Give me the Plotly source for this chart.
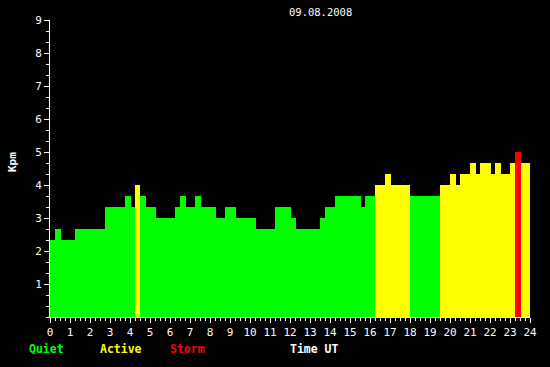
import plotly.graph_objects as go

# Segment start times (hours UT) and Kpm values
start_hours = [0.0, 0.25, 0.55, 1.25, 2.75, 3.75, 4.05, 4.25, 4.5, 4.8, 5.3, 6.25, 6.5, 6.8,
               7.25, 7.55, 8.3, 8.75, 9.3, 10.3, 11.25, 12.05, 12.3, 13.5, 13.75, 14.25,
               15.55, 15.75, 16.25, 16.75, 17.05, 18.0, 19.5, 20.0, 20.3, 20.5, 21.0, 21.3,
               21.5, 22.05, 22.25, 22.55, 23.0, 23.25, 23.55]
end_hour = 24.05
kpm_values = [2.33, 2.67, 2.33, 2.67, 3.33, 3.67, 3.33, 4.0, 3.67, 3.33, 3.0, 3.33, 3.67, 3.33,
              3.67, 3.33, 3.0, 3.33, 3.0, 2.67, 3.33, 3.0, 2.67, 3.0, 3.33, 3.67,
              3.33, 3.67, 4.0, 4.33, 4.0, 3.67, 4.0, 4.33, 4.0, 4.33, 4.67, 4.33,
              4.67, 4.33, 4.67, 4.33, 4.67, 5.0, 4.67]
x_tick_labels = [str(h) for h in range(0, 25)]
y_tick_labels = [str(k) for k in range(1, 10)]
date_label = "09.08.2008"
level_names = ["Quiet", "Active", "Storm"]
level_colors = ["#00ff00", "#ffff00", "#ff0000"]

ends = start_hours[1:] + [end_hour]
widths = [e - s for s, e in zip(start_hours, ends)]


def color_for(v):
    if v >= 5:
        return level_colors[2]
    if v >= 4:
        return level_colors[1]
    return level_colors[0]


colors = [color_for(v) for v in kpm_values]

FONT = "DejaVu Sans Mono"

fig = go.Figure()
fig.add_trace(go.Bar(
    x=start_hours, y=kpm_values, width=widths, offset=0,
    marker=dict(color=colors, line=dict(width=0)),
    hoverinfo="skip", showlegend=False,
))

fig.update_layout(
    width=550, height=367,
    margin=dict(l=50, r=20, t=20, b=50),
    paper_bgcolor="black", plot_bgcolor="black",
    bargap=0,
    font=dict(family=FONT, color="white", size=11),
    showlegend=False,
)

fig.update_xaxes(
    range=[0, 24], tickvals=list(range(0, 25)), ticktext=x_tick_labels,
    ticks="outside", ticklen=5, tickwidth=1, tickcolor="white",
    minor=dict(dtick=0.25, tick0=0, ticks="outside", ticklen=3, tickcolor="white", tickwidth=1),
    showline=True, linecolor="white", linewidth=1,
    showgrid=False, zeroline=False,
    tickfont=dict(family=FONT, size=11, color="white"),
    fixedrange=True,
)
fig.update_yaxes(
    range=[0, 9], tickvals=list(range(1, 10)), ticktext=y_tick_labels,
    ticks="outside", ticklen=5, tickwidth=1, tickcolor="white",
    minor=dict(dtick=1/3, tick0=0, ticks="outside", ticklen=3, tickcolor="white", tickwidth=1),
    showline=True, linecolor="white", linewidth=1,
    showgrid=False, zeroline=False,
    tickfont=dict(family=FONT, size=11, color="white"),
    fixedrange=True,
)

annotations = [
    dict(text=date_label, x=320, y=367 - 12.5, font=dict(size=10.5)),
    dict(text="<b>Kpm</b>", x=12, y=367 - 162, textangle=-90, font=dict(size=11)),
    dict(text="<b>" + level_names[0] + "</b>", x=46, y=367 - 348.5,
         font=dict(size=11.5, color=level_colors[0])),
    dict(text="<b>" + level_names[1] + "</b>", x=120.5, y=367 - 348.5,
         font=dict(size=11.5, color=level_colors[1])),
    dict(text="<b>" + level_names[2] + "</b>", x=187, y=367 - 348.5,
         font=dict(size=11.5, color=level_colors[2])),
    dict(text="<b>Time UT</b>", x=314, y=367 - 348.5, font=dict(size=11.5)),
]
for a in annotations:
    f = dict(family=FONT, color="white")
    f.update(a.pop("font"))
    fig.add_annotation(xref="paper", yref="paper",
                       x=(a.pop("x") - 50) / 480, y=(a.pop("y") - 50) / 297,
                       showarrow=False, xanchor="center", yanchor="middle",
                       font=f, **a)

fig.write_html("out.html",
               config={"displayModeBar": False, "staticPlot": True},
               post_script="document.body.style.margin='0';document.body.style.background='black';")
